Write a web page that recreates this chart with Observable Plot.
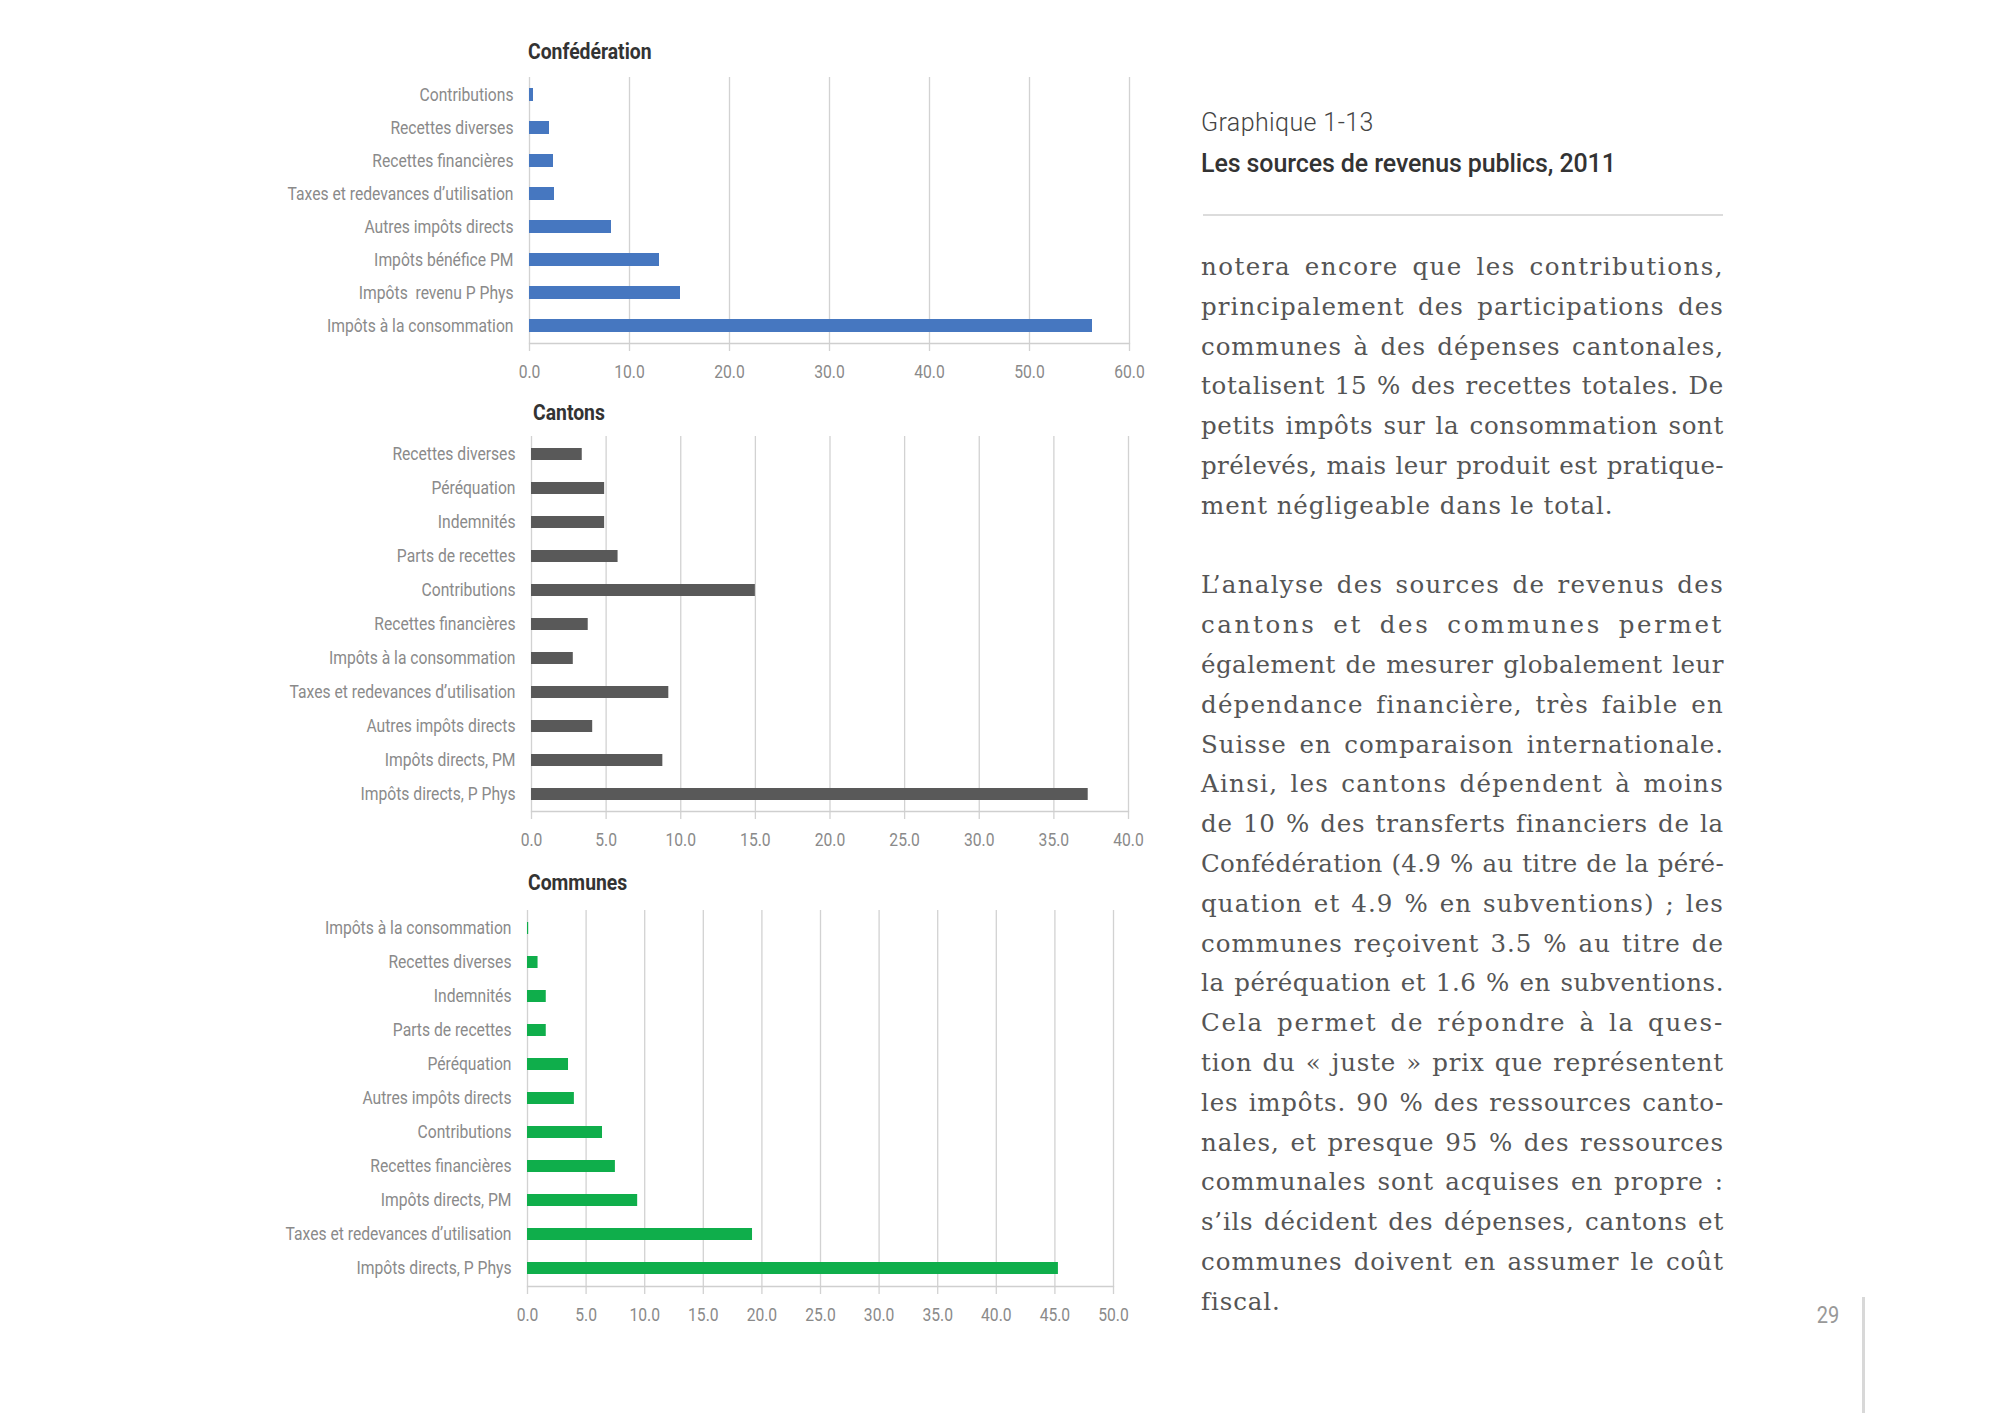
<!DOCTYPE html>
<html lang="fr">
<head>
<meta charset="utf-8">
<script src="https://cdn.jsdelivr.net/npm/d3@7"></script>
<script src="https://cdn.jsdelivr.net/npm/@observablehq/plot@0.6"></script>
<style>
  html, body { margin: 0; padding: 0; background: #fff; }
  #page { position: relative; width: 2000px; height: 1413px; overflow: hidden; background: #fff; }
  .chart { position: absolute; left: 0; }
  .ctitle { position: absolute; font-family: Roboto, sans-serif; font-weight: bold; font-size: 22px; line-height: 22px; color: #333; transform: scaleX(0.88); transform-origin: left center; white-space: nowrap; }
  #col { position: absolute; left: 1201px; top: 0; width: 523px; }
  .head1 { position: absolute; left: 0; top: 108px; font-family: Roboto, sans-serif; font-weight: 300; font-size: 25px; line-height: 30px; color: #444; letter-spacing: 0.4px; white-space: nowrap; }
  .head2 { position: absolute; left: 0; top: 149px; font-family: Roboto, sans-serif; font-weight: 500; font-size: 25px; line-height: 30px; color: #333; letter-spacing: -0.1px; white-space: nowrap; }
  .rule { position: absolute; left: 2px; top: 214px; width: 520px; height: 2px; background: #dcdcdc; }
  #body { position: absolute; left: 0; top: 247px; width: 523px; font-family: "DejaVu Serif", "Liberation Serif", serif; font-size: 24.5px; color: #555; }
  #body .l { height: 39.8px; line-height: 39.8px; text-align: justify; text-align-last: justify; white-space: nowrap; }
  #body .l.plain { text-align: left; text-align-last: left; }
  #body .gap { height: 39.8px; }
  #pnum { position: absolute; left: 1808px; top: 1302px; width: 40px; text-align: center; font-family: Roboto, sans-serif; font-size: 23px; line-height: 28px; color: #999; transform: scaleX(0.87); }
  #vline { position: absolute; left: 1862px; top: 1297px; width: 3px; height: 116px; background: #d8d8d8; }
</style>
</head>
<body>
<div id="page">
  <div class="ctitle" style="left:528px; top:41px;">Confédération</div>
  <div class="ctitle" style="left:533px; top:402px;">Cantons</div>
  <div class="ctitle" style="left:528px; top:872px;">Communes</div>
  <div id="c1" class="chart" style="top:60px;"></div>
  <div id="c2" class="chart" style="top:420px;"></div>
  <div id="c3" class="chart" style="top:892px;"></div>
  <div id="col">
    <div class="head1">Graphique 1-13</div>
    <div class="head2">Les sources de revenus publics, 2011</div>
    <div class="rule"></div>
    <div id="body"></div>
  </div>
  <div id="pnum">29</div>
  <div id="vline"></div>
</div>
<script>
// ---- Data ----
const confCategories = ["Contributions", "Recettes diverses", "Recettes financières", "Taxes et redevances d’utilisation", "Autres impôts directs", "Impôts bénéfice PM", "Impôts  revenu P Phys", "Impôts à la consommation"];
const confValues = [0.4, 2.0, 2.4, 2.5, 8.2, 13.0, 15.1, 56.3];
const confTicks = [0, 10, 20, 30, 40, 50, 60];

const cantonCategories = ["Recettes diverses", "Péréquation", "Indemnités", "Parts de recettes", "Contributions", "Recettes financières", "Impôts à la consommation", "Taxes et redevances d’utilisation", "Autres impôts directs", "Impôts directs, PM", "Impôts directs, P Phys"];
const cantonValues = [3.4, 4.9, 4.9, 5.8, 15.0, 3.8, 2.8, 9.2, 4.1, 8.8, 37.3];
const cantonTicks = [0, 5, 10, 15, 20, 25, 30, 35, 40];

const communeCategories = ["Impôts à la consommation", "Recettes diverses", "Indemnités", "Parts de recettes", "Péréquation", "Autres impôts directs", "Contributions", "Recettes financières", "Impôts directs, PM", "Taxes et redevances d’utilisation", "Impôts directs, P Phys"];
const communeValues = [0.1, 0.9, 1.6, 1.6, 3.5, 4.0, 6.4, 7.5, 9.4, 19.2, 45.3];
const communeTicks = [0, 5, 10, 15, 20, 25, 30, 35, 40, 45, 50];

const bodyParagraphs = [
  ["notera encore que les contributions,",
   "principalement des participations des",
   "communes à des dépenses cantonales,",
   "totalisent 15 % des recettes totales. De",
   "petits impôts sur la consommation sont",
   "prélevés, mais leur produit est pratique-",
   "ment négligeable dans le total."],
  ["L’analyse des sources de revenus des",
   "cantons et des communes permet",
   "également de mesurer globalement leur",
   "dépendance financière, très faible en",
   "Suisse en comparaison internationale.",
   "Ainsi, les cantons dépendent à moins",
   "de 10 % des transferts financiers de la",
   "Confédération (4.9 % au titre de la péré-",
   "quation et 4.9 % en subventions) ; les",
   "communes reçoivent 3.5 % au titre de",
   "la péréquation et 1.6 % en subventions.",
   "Cela permet de répondre à la ques-",
   "tion du « juste » prix que représentent",
   "les impôts. 90 % des ressources canto-",
   "nales, et presque 95 % des ressources",
   "communales sont acquises en propre :",
   "s’ils décident des dépenses, cantons et",
   "communes doivent en assumer le coût",
   "fiscal."]
];

// ---- Text column ----
const COL_W = 523;
const bodyEl = document.getElementById("body");
bodyParagraphs.forEach((para, pi) => {
  if (pi > 0) { const g = document.createElement("div"); g.className = "gap"; bodyEl.appendChild(g); }
  para.forEach((line, li) => {
    const d = document.createElement("div");
    const last = li === para.length - 1;
    d.className = "l plain";
    d.style.letterSpacing = "0px";
    const s = document.createElement("span");
    s.textContent = line;
    d.appendChild(s);
    bodyEl.appendChild(d);
    if (last) {
      d.style.letterSpacing = "0.9px";
    } else {
      const w = s.getBoundingClientRect().width;
      const extra = Math.max(0, COL_W - w);
      const ls = Math.min(3, (extra * 0.75) / line.length);
      d.style.letterSpacing = ls.toFixed(2) + "px";
      d.className = "l";
    }
  });
});

// ---- Charts ----
const LABEL_FONT = 'Roboto, sans-serif';
const CONDENSE = 0.87;

function condenseText(svg, label, mode) {
  svg.querySelectorAll(`[aria-label="${label}"] text`).forEach(t => {
    const parent = t.parentNode;
    const r = t.getBoundingClientRect();
    const sx = mode === "end" ? r.right : (r.left + r.right) / 2;
    const pt = svg.createSVGPoint();
    pt.x = sx; pt.y = r.top;
    const p = pt.matrixTransform(parent.getScreenCTM().inverse());
    const g = document.createElementNS("http://www.w3.org/2000/svg", "g");
    g.setAttribute("transform", `translate(${p.x},0) scale(${CONDENSE},1) translate(${-p.x},0)`);
    parent.insertBefore(g, t);
    g.appendChild(t);
  });
}

function barChart(target, {categories, values, ticks, color, marginLeft, plotWidth, marginTop, plotHeight, padding}) {
  const data = categories.map((c, i) => ({cat: c, value: values[i]}));
  const xmax = ticks[ticks.length - 1];
  const svg = Plot.plot({
    width: marginLeft + plotWidth + 30,
    height: marginTop + plotHeight + 50,
    marginLeft, marginRight: 30, marginTop, marginBottom: 50,
    style: {fontFamily: LABEL_FONT, fontSize: "18px", color: "#8a8a8a", background: "transparent"},
    x: {domain: [0, xmax], ticks, tickFormat: d3.format(".1f"), tickSize: 0, tickPadding: 22, label: null},
    y: {domain: categories, paddingInner: padding, paddingOuter: padding / 2, tickSize: 0, tickPadding: 16, label: null},
    marks: [
      Plot.ruleX(ticks, {stroke: "#d2d2d2", strokeWidth: 1.3, insetBottom: -8}),
      Plot.barX(data, {x: "value", y: "cat", fill: color}),
      Plot.frame({anchor: "bottom", stroke: "#cfcfcf", strokeWidth: 1.3})
    ]
  });
  document.getElementById(target).appendChild(svg);
  condenseText(svg, "y-axis tick label", "end");
  condenseText(svg, "x-axis tick label", "middle");
}

barChart("c1", {
  categories: confCategories, values: confValues, ticks: confTicks, color: "#4677c0",
  marginLeft: 529, plotWidth: 600, marginTop: 17, plotHeight: 266, padding: 0.62
});
barChart("c2", {
  categories: cantonCategories, values: cantonValues, ticks: cantonTicks, color: "#595959",
  marginLeft: 531, plotWidth: 597, marginTop: 16, plotHeight: 375, padding: 0.655
});
barChart("c3", {
  categories: communeCategories, values: communeValues, ticks: communeTicks, color: "#0fae4b",
  marginLeft: 527, plotWidth: 586, marginTop: 18, plotHeight: 376, padding: 0.64
});
</script>
</body>
</html>
